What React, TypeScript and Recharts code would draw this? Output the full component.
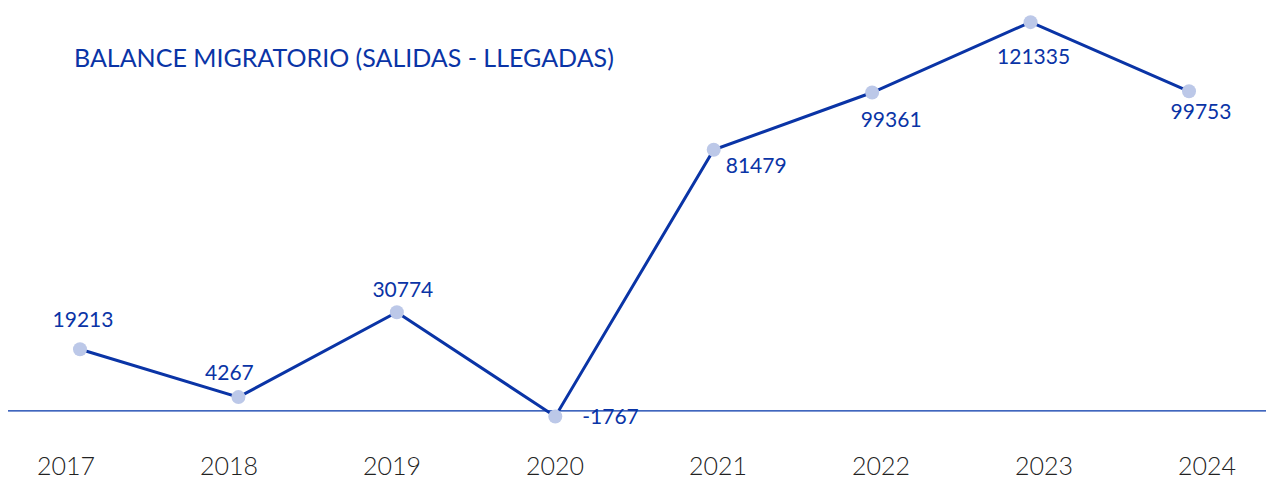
import { LineChart, Line, XAxis, YAxis, ReferenceLine } from "recharts";

const years = ["2017", "2018", "2019", "2020", "2021", "2022", "2023", "2024"];
const balance = [19213, 4267, 30774, -1767, 81479, 99361, 121335, 99753];

const data = years.map((year, i) => ({ year, balance: balance[i] }));

const BLUE = "#0a34a6";
const FONT = "Lato, 'Open Sans', sans-serif";

// where each value label sits relative to its point
const labelOffsets = [
  { dx: 3, dy: -31, anchor: "middle" },
  { dx: -9, dy: -26, anchor: "middle" },
  { dx: 6, dy: -24, anchor: "middle" },
  { dx: 27, dy: -1, anchor: "start" },
  { dx: 12, dy: 15, anchor: "start" },
  { dx: 19, dy: 26, anchor: "middle" },
  { dx: 3, dy: 33, anchor: "middle" },
  { dx: 12, dy: 19, anchor: "middle" },
];

const ValueLabel = (props: any) => {
  const { x, y, value, index } = props;
  const o = labelOffsets[index] || { dx: 0, dy: -20, anchor: "middle" };
  return (
    <text
      x={x + o.dx}
      y={y + o.dy}
      textAnchor={o.anchor}
      dominantBaseline="central"
      fill={BLUE}
      fontFamily={FONT}
      fontSize={21}
    >
      {value}
    </text>
  );
};

export default function App() {
  return (
    <div style={{ position: "relative", width: 1266, height: 472 }}>
      <div
        style={{
          position: "absolute",
          left: 66,
          top: 36,
          fontFamily: FONT,
          fontSize: 25,
          lineHeight: "26px",
          color: BLUE,
          whiteSpace: "nowrap",
        }}
      >
        BALANCE MIGRATORIO (SALIDAS - LLEGADAS)
      </div>
      <LineChart
        width={1266}
        height={472}
        data={data}
        margin={{ top: 12, right: 0, left: 0, bottom: 0 }}
      >
        <XAxis
          xAxisId="pts"
          dataKey="year"
          hide
          padding={{ left: 72, right: 85 }}
        />
        <XAxis
          xAxisId="labels"
          dataKey="year"
          height={50}
          axisLine={false}
          tickLine={false}
          interval={0}
          padding={{ left: 58, right: 67 }}
          tickMargin={21}
          tick={{ fill: "#222", fontSize: 25, fontFamily: FONT, fontWeight: 300 }}
        />
        <YAxis hide domain={[-6000, 122000]} />
        <ReferenceLine
          xAxisId="pts"
          y={0}
          stroke="#0033a8"
          strokeWidth={1.2}
        />
        <Line
          xAxisId="pts"
          dataKey="balance"
          type="linear"
          stroke={BLUE}
          strokeWidth={3}
          dot={{ r: 7, fill: "#bcc8e8", stroke: "none" }}
          activeDot={false}
          label={ValueLabel}
          isAnimationActive={false}
        />
      </LineChart>
    </div>
  );
}
